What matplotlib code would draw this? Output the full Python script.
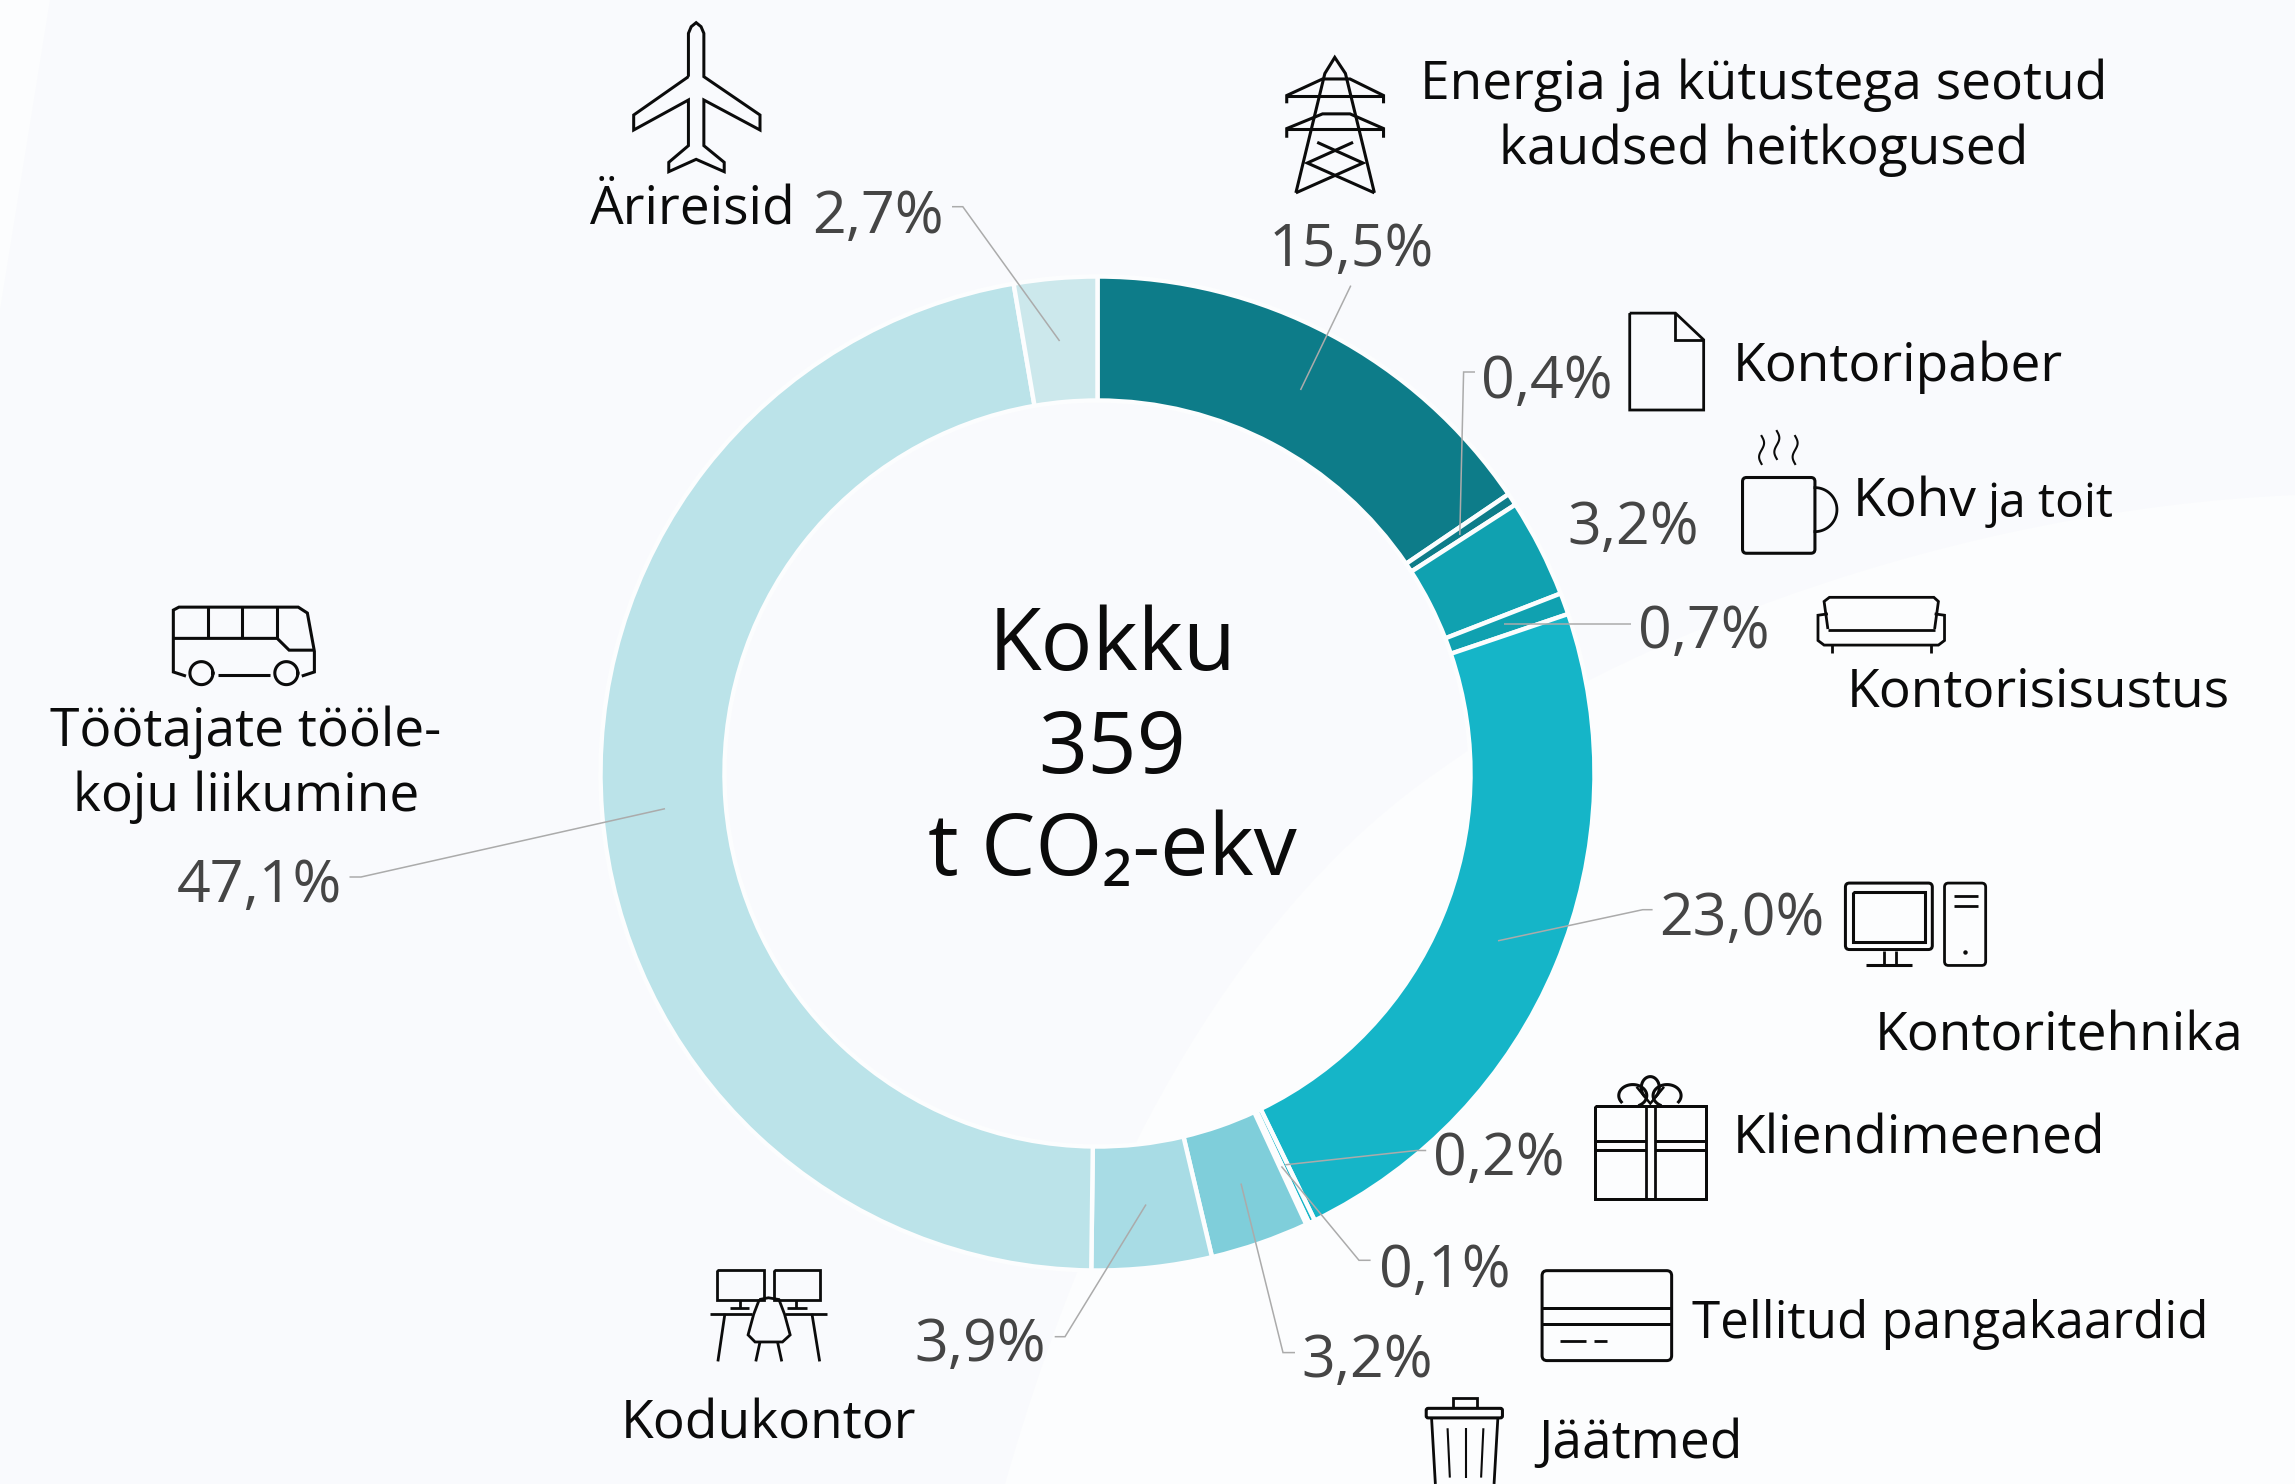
import numpy as np
import matplotlib
matplotlib.use("Agg")
import matplotlib.pyplot as plt
from matplotlib.patches import FancyBboxPatch, PathPatch
from matplotlib.path import Path

W, H = 2295, 1484
S = 2295 / 1568
plt.rcParams['font.family'] = ['Open Sans', 'DejaVu Sans']

# ---------- data ----------
categories = ["Energia ja kütustega seotud kaudsed heitkogused", "Kontoripaber", "Kohv ja toit",
              "Kontorisisustus", "Kontoritehnika", "Kliendimeened", "Tellitud pangakaardid",
              "Jäätmed", "Kodukontor", "Töötajate tööle-koju liikumine", "Ärireisid"]
values = [15.5, 0.4, 3.2, 0.7, 23.0, 0.2, 0.1, 3.2, 3.9, 47.1, 2.7]
colors = ["#0D7C89", "#0D7C89", "#10A1B0", "#10A1B0", "#15B5C8", "#15B5C8", "#15B5C8",
          "#7FCEDA", "#A8DCE5", "#BBE3E9", "#CCE8EC"]
pct_labels = ["15,5%", "0,4%", "3,2%", "0,7%", "23,0%", "0,2%", "0,1%", "3,2%", "3,9%", "47,1%", "2,7%"]

BG = "#F9FAFD"
LIGHT = "#FCFDFE"
INK = "#0B0B0B"
GREY = "#454545"
LEAD = "#ABABAB"

fig = plt.figure(figsize=(W / 100, H / 100), dpi=100, facecolor=BG)
ax = fig.add_axes([0, 0, 1, 1])


def Y(py):
    return H - py


def Z1(X, Yv): return (1100 + X / 1.312, Yv / 2.178)
def Z2(X, Yv): return (1100 + X / 1.312, 860 + Yv / 2.513)
def Z3(X, Yv): return (X / 1.425, Yv / 3.0)
def Z4(X, Yv): return (X / 1.425, 560 + Yv / 1.697)


LW = 3.0 * 0.72


def poly(pts, closed=False, lw=LW, color=INK, z=6):
    xs = [p[0] for p in pts]
    ys = [Y(p[1]) for p in pts]
    if closed:
        xs.append(xs[0]); ys.append(ys[0])
    ax.plot(xs, ys, color=color, lw=lw, solid_capstyle='butt', solid_joinstyle='miter', zorder=z)


def rrect(p0, p1, r=5, lw=LW, z=6):
    x0, y0 = p0; x1, y1 = p1
    ax.add_patch(FancyBboxPatch((x0 + r, Y(y1) + r), x1 - x0 - 2 * r, y1 - y0 - 2 * r,
                                boxstyle=f"round,pad={r},rounding_size={r}", fc='none', ec=INK, lw=lw, zorder=z))


def ell(c, rx, ry, lw=LW, t0=0, t1=360, z=6):
    th = np.radians(np.linspace(t0, t1, 60))
    ax.plot(c[0] + rx * np.cos(th), Y(c[1]) + ry * np.sin(th), color=INK, lw=lw, zorder=z)


# ---------- background swooshes ----------
bx = [(1005, 1484), (1100, 1150), (1250, 900), (1440, 770), (1620, 640), (1950, 510), (2295, 495)]
verts = [(x, Y(y)) for x, y in bx] + [(2295, 0), (1005, 0), (1005, 0)]
codes = [Path.MOVETO] + [Path.CURVE4] * 6 + [Path.LINETO, Path.LINETO, Path.CLOSEPOLY]
ax.add_patch(PathPatch(Path(verts, codes), fc=LIGHT, ec='none', zorder=0))
ax.fill([0, 50, 0], [Y(0), Y(0), Y(310)], color=LIGHT, lw=0, zorder=0)

# ---------- donut ----------
ax.pie(values, colors=colors, startangle=90, counterclock=False, center=(1097.5, Y(773.5)), radius=497,
       wedgeprops=dict(width=124, edgecolor='#FCFDFE', linewidth=3.2), normalize=True, frame=False)
ax.set_xlim(0, W)
ax.set_ylim(0, H)
ax.set_aspect('auto')
ax.set_position([0, 0, 1, 1])
ax.axis('off')

# ---------- leader lines ----------
leaders = [
    [(1300.5, 390), (1350.8, 285.6)],
    [(1459.8, 535), (1463.6, 372), (1475, 372)],
    [(1504, 624.4), (1631, 624.4)],
    [(1498, 940.8), (1642.7, 909.7), (1652.6, 909.7)],
    [(1285.2, 1164.8), (1416.3, 1150.5), (1426.2, 1150.5)],
    [(1281.4, 1166.4), (1359, 1260.3), (1370.6, 1260.3)],
    [(1241, 1183.5), (1283, 1352.6), (1295, 1352.6)],
    [(1146, 1204.5), (1065, 1336.7), (1054.7, 1336.7)],
    [(665, 808.7), (361, 877), (349.5, 877)],
    [(1059.6, 341), (962.8, 206.7), (952, 206.7)],
]
for pts in leaders:
    poly(pts, lw=1.1, color=LEAD, z=5)

# ---------- text ----------
FS = 38.3
PF = 42.5


def lab(x, y, s, ha='left', fs=FS, color=INK):
    ax.text(x * S, Y(y * S), s, ha=ha, va='baseline', fontsize=fs, color=color, zorder=8)


lab(1205, 67.5, "Energia ja kütustega seotud", 'center')
lab(1205, 112, "kaudsed heitkogused", 'center')
lab(1184, 260, "Kontoripaber")
lab(1266, 353, "Kohv")
lab(1358, 353, "ja toit", fs=34.5)
lab(1262, 483, "Kontorisisustus")
lab(1281, 718, "Kontoritehnika")
lab(1184, 788, "Kliendimeened")
lab(1156, 914, "Tellitud pangakaardid", fs=36.8)
lab(1051, 996, "Jäätmed")
lab(525, 983, "Kodukontor", 'center')
lab(168, 510, "Töötajate tööle-", 'center')
lab(168, 554, "koju liikumine", 'center')
lab(473, 152.5, "Ärireisid", 'center')

pct_pos = [(923, 181.5), (1057, 272), (1116, 372), (1164, 443), (1190, 639), (1024, 803), (987, 879),
           (934, 941), (670, 930), (177, 616), (600, 159)]
for (x, y), s in zip(pct_pos, pct_labels):
    lab(x, y, s, 'center', fs=PF, color=GREY)

lab(760, 458, "Kokku", 'center', fs=62)
lab(760, 528, "359", 'center', fs=62)
lab(760, 598, "t CO₂-ekv", 'center', fs=62)

# ---------- icons ----------
# power pylon
poly([Z1(257, 420), Z1(295, 160), Z1(308, 125), Z1(322, 160), Z1(360, 420)], lw=2.2)
for yu, yd, yb in [(172, 208, 225), (248, 280, 300)]:
    poly([Z1(245, yb), Z1(245, yd), Z1(292, yu), Z1(328, yu), Z1(372, yd), Z1(372, yb)], lw=2.2)
    poly([Z1(245, yd), Z1(372, yd)], lw=2.2)
poly([Z1(285, 310), Z1(345, 355), Z1(257, 420)], lw=2.2)
poly([Z1(332, 310), Z1(272, 355), Z1(360, 420)], lw=2.2)

# document
poly([Z1(695, 682), Z1(755, 682), Z1(792, 740), Z1(792, 893), Z1(695, 893)], closed=True, lw=2.0)
poly([Z1(755, 682), Z1(755, 740), Z1(792, 740)], lw=2.0)

# cup
rrect(Z1(843, 1040), Z1(938, 1205), r=4, lw=2.2)
hc = Z1(938, 1110)
ell(hc, 22, 22, lw=2.0, t0=-90, t1=90)
for x0 in (868, 888, 912):
    tt = np.linspace(0, 1, 30)
    xx = Z1(x0, 0)[0] + 2.5 * np.sin(tt * 2 * np.pi)
    yy = 436 + tt * 28 + (0 if x0 != 888 else -5)
    ax.plot(xx, Y(yy), color=INK, lw=1.5, zorder=6)

# sofa
poly([Z1(955, 1370), Z1(950, 1310), Z1(957, 1301), Z1(1094, 1301), Z1(1100, 1310), Z1(1095, 1370)], lw=2.0)
poly([Z1(955, 1372), Z1(1095, 1372)], lw=2.0)
poly([Z1(955, 1337), Z1(942, 1340), Z1(942, 1395), Z1(950, 1405), Z1(1100, 1405), Z1(1108, 1395), Z1(1108, 1340), Z1(1095, 1337)], lw=2.0)
poly([Z1(960, 1405), Z1(960, 1423)], lw=2.0)
poly([Z1(1090, 1405), Z1(1090, 1423)], lw=2.0)

# computer
rrect(Z2(978, 58), Z2(1092, 225), r=4)
poly([Z2(988, 80), Z2(1082, 80), Z2(1082, 205), Z2(988, 205)], closed=True, lw=2.2)
poly([Z2(1028, 228), Z2(1028, 262)], lw=2.0)
poly([Z2(1045, 228), Z2(1045, 262)], lw=2.0)
poly([Z2(1005, 264), Z2(1065, 264)], lw=2.2)
rrect(Z2(1108, 58), Z2(1162, 265), r=4, lw=2.0)
poly([Z2(1120, 90), Z2(1152, 90)], lw=2.0)
poly([Z2(1120, 115), Z2(1152, 115)], lw=2.0)
ax.plot([Z2(1135, 230)[0]], [Y(Z2(1135, 230)[1])], 'o', ms=2.2, color=INK, zorder=6)

# gift
poly([Z2(650, 617), Z2(795, 617), Z2(795, 853), Z2(650, 853)], closed=True)
poly([Z2(716, 617), Z2(716, 853)], lw=2.0)
poly([Z2(728, 617), Z2(728, 853)], lw=2.0)
poly([Z2(650, 705), Z2(716, 705)]); poly([Z2(728, 705), Z2(795, 705)])
poly([Z2(650, 730), Z2(716, 730)]); poly([Z2(728, 730), Z2(795, 730)])
ell(Z2(699, 592), 14, 11, lw=2.2, t0=-60, t1=215)
ell(Z2(744, 592), 14, 11, lw=2.2, t0=-35, t1=240)
ell(Z2(722, 572), 9, 11, lw=2.2, t0=-50, t1=230)
poly([Z2(704, 570), Z2(722, 612), Z2(740, 570)], lw=1.8)

# bank card
rrect(Z2(580, 1032), Z2(750, 1258), r=5)
poly([Z2(580, 1125), Z2(750, 1125)])
poly([Z2(580, 1167), Z2(750, 1167)])
poly([Z2(603, 1210), Z2(637, 1210)], lw=2.0)
poly([Z2(648, 1210), Z2(665, 1210)], lw=2.0)

# bin
rrect(Z2(428, 1378), Z2(528, 1402), r=2, lw=2.2)
poly([Z2(463, 1378), Z2(463, 1353), Z2(495, 1353), Z2(495, 1378)], lw=2.0)
poly([Z2(435, 1402), Z2(440, 1568)], lw=2.0)
poly([Z2(522, 1402), Z2(517, 1568)], lw=2.0)
poly([Z2(456, 1428), Z2(459, 1552)], lw=1.5)
poly([Z2(480, 1428), Z2(480, 1552)], lw=1.5)
poly([Z2(503, 1428), Z2(500, 1552)], lw=1.5)

# plane
poly([Z3(981, 230), Z3(981, 100), Z3(985, 80), Z3(992, 68), Z3(999, 80), Z3(1003, 100), Z3(1003, 230),
      Z3(1083, 345), Z3(1083, 390), Z3(1003, 300), Z3(1003, 437), Z3(1032, 487), Z3(1032, 515),
      Z3(992, 478), Z3(953, 515), Z3(953, 487), Z3(981, 437), Z3(981, 300), Z3(903, 390), Z3(903, 345)],
     closed=True)

# bus
poly([Z4(265, 197), Z4(247, 190), Z4(247, 85), Z4(255, 80), Z4(425, 80), Z4(438, 90), Z4(448, 155), Z4(448, 190), Z4(430, 197)], lw=2.2)
poly([Z4(247, 133), Z4(395, 133), Z4(412, 153), Z4(448, 153)], lw=2.2)
for x0 in (297, 345, 395):
    poly([Z4(x0, 80), Z4(x0, 133)], lw=2.2)
poly([Z4(310, 196), Z4(385, 196)], lw=2.2)
ell(Z4(287, 192), 11.5, 11.5, lw=2.2)
ell(Z4(408, 192), 11.5, 11.5, lw=2.2)

# home office
for a, b in [(1022, 1088), (1103, 1168)]:
    poly([Z4(a, 1205), Z4(b, 1205), Z4(b, 1255), Z4(a, 1255)], closed=True, lw=2.0)
poly([Z4(1055, 1255), Z4(1055, 1270)], lw=2.0)
poly([Z4(1135, 1255), Z4(1135, 1270)], lw=2.0)
poly([Z4(1040, 1270), Z4(1068, 1270)], lw=2.0)
poly([Z4(1122, 1270), Z4(1150, 1270)], lw=2.0)
poly([Z4(1012, 1279), Z4(1072, 1279)], lw=2.0)
poly([Z4(1118, 1279), Z4(1178, 1279)], lw=2.0)
poly([Z4(1033, 1279), Z4(1023, 1360)], lw=2.0)
poly([Z4(1157, 1279), Z4(1168, 1360)], lw=2.0)
poly([Z4(1082, 1255), Z4(1095, 1252), Z4(1110, 1255), Z4(1118, 1280), Z4(1126, 1315), Z4(1115, 1327),
      Z4(1076, 1327), Z4(1066, 1315), Z4(1074, 1280)], closed=True, lw=2.0)
poly([Z4(1083, 1327), Z4(1077, 1360)], lw=2.0)
poly([Z4(1108, 1327), Z4(1114, 1360)], lw=2.0)

fig.savefig("out.png", dpi=100, facecolor=BG)
